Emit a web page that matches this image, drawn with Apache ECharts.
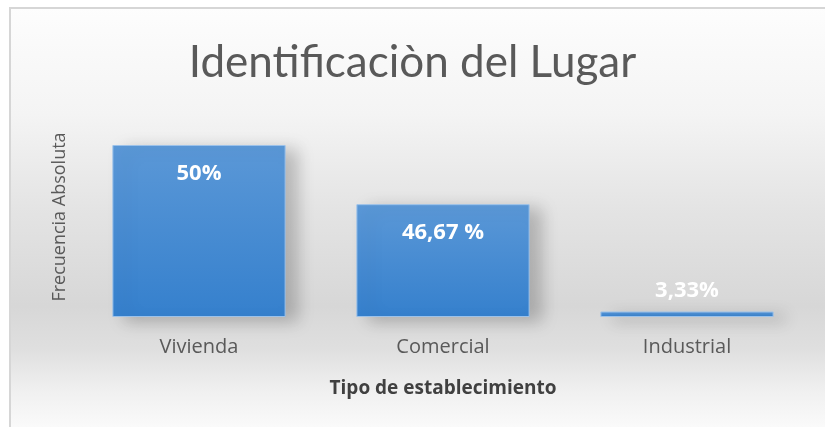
<!DOCTYPE html>
<html>
<head>
<meta charset="utf-8">
<title>Identificaciòn del Lugar</title>
<script src="https://cdn.jsdelivr.net/npm/echarts@6/dist/echarts.min.js"></script>
<style>
  html, body { margin: 0; padding: 0; background: #fff; }
  #chart { width: 825px; height: 427px; }
</style>
</head>
<body>
<div id="chart"></div>
<script>
// datos
const categories = ['Vivienda', 'Comercial', 'Industrial']
// altura de las barras (escala del eje, 50 = barra más alta)
const barHeights = [50, 32.8, 1.6]
const barLabels = ['50%', '46,67 %', '3,33%']

const chart = echarts.init(document.getElementById('chart'))

const option = {
  backgroundColor: '#ffffff',
  textStyle: { fontFamily: 'Lato, "Open Sans", sans-serif' },
  graphic: [
    {
      type: 'rect',
      z: -10,
      silent: true,
      shape: { x: 10, y: 8, width: 820, height: 425 },
      style: {
        stroke: '#d6d6d6',
        lineWidth: 2,
        fill: new echarts.graphic.LinearGradient(0, 0, 0, 1, [
          { offset: 0, color: '#fdfdfd' },
          { offset: 0.25, color: '#f4f4f4' },
          { offset: 0.47, color: '#e4e4e4' },
          { offset: 0.7, color: '#d7d7d7' },
          { offset: 0.8, color: '#dfdfdf' },
          { offset: 0.9, color: '#f0f0f0' },
          { offset: 1, color: '#fcfcfc' }
        ])
      }
    }
  ],
  title: {
    text: 'Identificaciòn del Lugar',
    left: 'center',
    top: 36,
    textStyle: {
      fontFamily: 'Lato, "Open Sans", sans-serif',
      fontSize: 44,
      fontWeight: 'normal',
      color: '#595959'
    }
  },
  grid: {
    left: 77,
    right: 16,
    top: 145,
    bottom: 110
  },
  xAxis: {
    type: 'category',
    data: categories,
    name: 'Tipo de establecimiento',
    nameLocation: 'middle',
    nameGap: 62,
    nameTextStyle: {
      fontFamily: '"Open Sans", sans-serif',
      fontSize: 19,
      fontWeight: 'bold',
      color: '#404040'
    },
    axisLine: { show: false },
    axisTick: { show: false },
    axisLabel: {
      margin: 20,
      fontFamily: '"Open Sans", sans-serif',
      fontSize: 20,
      color: '#595959'
    }
  },
  yAxis: {
    type: 'value',
    min: 0,
    max: 50,
    name: 'Frecuencia Absoluta',
    nameLocation: 'middle',
    nameGap: 8,
    nameTextStyle: {
      fontFamily: '"Open Sans", sans-serif',
      fontSize: 18,
      color: '#595959',
      padding: [0, 0, 0, 28]
    },
    axisLine: { show: false },
    axisTick: { show: false },
    axisLabel: { show: false },
    splitLine: { show: false }
  },
  series: [
    {
      type: 'bar',
      barWidth: '71%',
      data: barHeights.map((value, index) => ({
        value,
        label: index === 2
          ? { position: 'top', distance: 10 }
          : { position: 'insideTop', distance: 18 }
      })),
      itemStyle: {
        color: new echarts.graphic.LinearGradient(0, 0, 0, 1, [
          { offset: 0, color: '#5b98d7' },
          { offset: 1, color: '#3580cd' }
        ]),
        borderColor: '#9cc2ea',
        borderWidth: 1,
        shadowColor: 'rgba(0,0,0,0.22)',
        shadowBlur: 16,
        shadowOffsetX: 12,
        shadowOffsetY: 4
      },
      label: {
        show: true,
        fontFamily: '"Open Sans", sans-serif',
        fontSize: 22,
        fontWeight: 'bold',
        color: '#ffffff',
        formatter: (params) => barLabels[params.dataIndex]
      }
    }
  ]
}

chart.setOption(option)
</script>
</body>
</html>
